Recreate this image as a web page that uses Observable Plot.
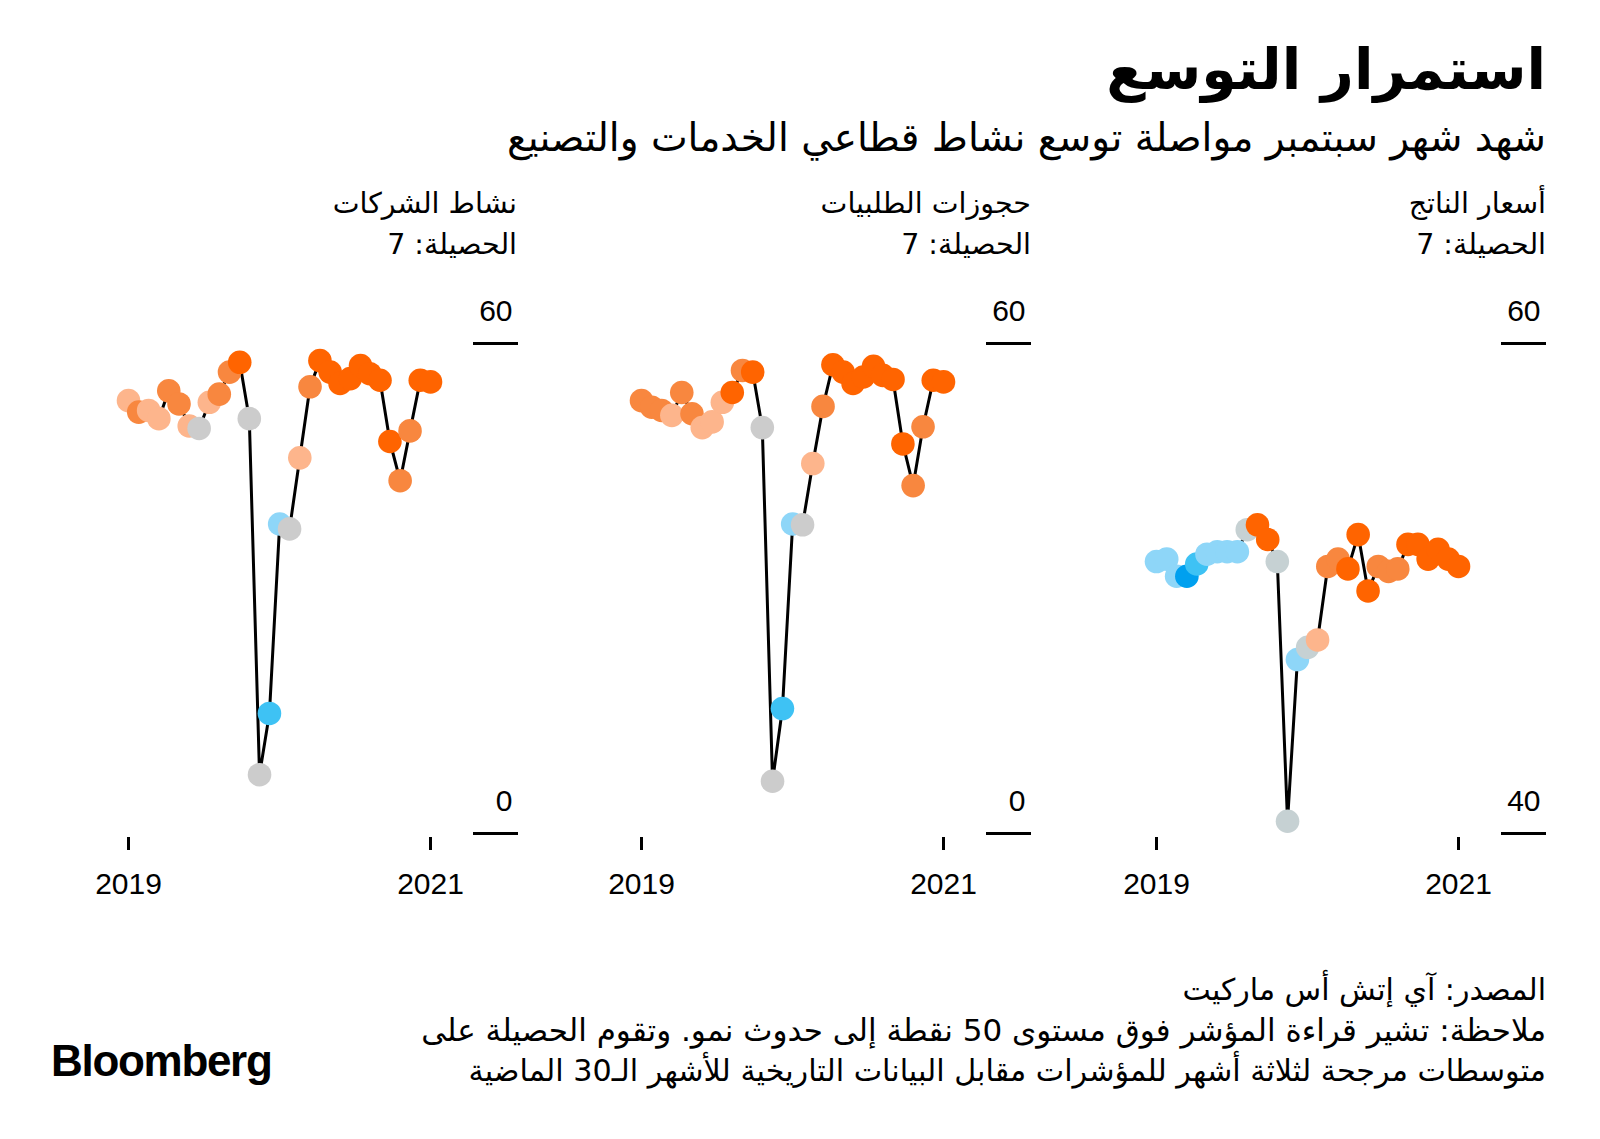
<!DOCTYPE html>
<html><head><meta charset="utf-8">
<script src="https://cdn.jsdelivr.net/npm/d3@7"></script>
<script src="https://cdn.jsdelivr.net/npm/@observablehq/plot@0.6"></script>
<style>
body{margin:0;background:#fff;}
#root{position:relative;width:1600px;height:1139px;overflow:hidden;font-family:"DejaVu Sans","Noto Sans",sans-serif;color:#000;background:#fff;}
.ar{position:absolute;direction:rtl;text-align:right;white-space:nowrap;line-height:1;}
.panel{position:absolute;top:290px;}
#logo{position:absolute;left:51px;top:1039px;font-family:"Liberation Sans",Arial,sans-serif;font-weight:bold;font-size:44px;letter-spacing:-1.3px;line-height:1;}
</style></head>
<body><div id="root">
<div class="ar" style="right:54px;top:41px;font-size:57px;font-weight:bold;">استمرار التوسع</div>
<div class="ar" style="right:54px;top:118px;font-size:39px;">شهد شهر سبتمبر مواصلة توسع نشاط قطاعي الخدمات والتصنيع</div>

<div class="ar" style="right:1083px;top:190px;font-size:28.5px;">نشاط الشركات</div>
<div class="ar" style="right:1083px;top:231px;font-size:28.5px;">الحصيلة: 7</div>
<div class="ar" style="right:569px;top:190px;font-size:28.5px;">حجوزات الطلبيات</div>
<div class="ar" style="right:569px;top:231px;font-size:28.5px;">الحصيلة: 7</div>
<div class="ar" style="right:54px;top:190px;font-size:28.5px;">أسعار الناتج</div>
<div class="ar" style="right:54px;top:231px;font-size:28.5px;">الحصيلة: 7</div>

<div class="panel" id="p1" style="left:68px"></div>
<div class="panel" id="p2" style="left:581px"></div>
<div class="panel" id="p3" style="left:1096px"></div>

<div class="ar" style="right:54px;top:975px;font-size:30px;">المصدر: آي إتش أس ماركيت</div>
<div class="ar" style="right:54px;top:1015px;font-size:31px;">ملاحظة: تشير قراءة المؤشر فوق مستوى 50 نقطة إلى حدوث نمو. وتقوم الحصيلة على</div>
<div class="ar" style="right:54px;top:1056px;font-size:30.2px;">متوسطات مرجحة لثلاثة أشهر للمؤشرات مقابل البيانات التاريخية للأشهر الـ30 الماضية</div>
<div id="logo">Bloomberg</div>
</div>
<script>
// Months: March 2019 .. September 2021 (31 monthly readings)
const firstMonth = new Date(Date.UTC(2019, 2, 1));
const lastMonth = new Date(Date.UTC(2021, 8, 1));
const dates = d3.utcMonth.range(firstMonth, d3.utcMonth.offset(lastMonth, 1));

// Business activity (نشاط الشركات)
const activityValues = [53.0,51.6,51.8,50.8,54.2,52.6,49.9,49.6,52.8,53.8,56.5,57.7,50.8,7.2,14.7,37.9,37.3,46.0,54.7,57.9,56.5,55.1,55.7,57.3,56.3,55.5,48.0,43.2,49.3,55.5,55.3];
const activityCodes = ["o1","o2","o1","o1","o2","o2","o1","n","o1","o2","o2","o3","n","n","b2","b1","n","o1","o2","o3","o3","o3","o3","o3","o3","o3","o3","o2","o2","o3","o3"];

// New orders (حجوزات الطلبيات)
const ordersValues = [53.0,52.2,51.8,51.2,54.0,51.4,49.7,50.4,52.8,54.0,56.7,56.5,49.7,6.4,15.3,37.9,37.8,45.3,52.3,57.4,56.5,55.1,55.9,57.2,56.1,55.6,47.7,42.6,49.8,55.5,55.3];
const ordersCodes = ["o2","o2","o2","o1","o2","o2","o1","o1","o1","o3","o2","o3","n","n","b2","b1","n","o1","o2","o3","o3","o3","o3","o3","o3","o3","o3","o2","o2","o3","o3"];

// Output prices (أسعار الناتج)
const pricesValues = [51.1,51.2,50.5,50.5,51.0,51.4,51.5,51.5,51.5,52.4,52.6,52.0,51.1,40.5,47.1,47.6,47.9,50.9,51.2,50.8,52.2,49.9,50.9,50.7,50.8,51.8,51.8,51.2,51.6,51.2,50.9];
const pricesCodes = ["b1","b1","b1","b3","b2","b1","b1","b1","b1","nb","o3","o3","nb","nb","b1","nb","o1","o2","o2","o3","o3","o3","o2","o2","o2","o3","o3","o3","o3","o3","o3"];

const codeNames = ["o3","o2","o1","n","nb","b1","b2","b3"];
const codeColors = ["#ff6400","#f8873f","#fdb58c","#cccccc","#c6d1d3","#8ed6f8","#3ec2f4","#00a0ef"];

function panel(values, codes, yDomain, yTicks) {
  const data = dates.map((date, i) => ({date, value: values[i], code: codes[i]}));
  return Plot.plot({
    width: 450, height: 623,
    marginLeft: 60, marginRight: 46, marginTop: 53, marginBottom: 80,
    style: {fontFamily: "'Liberation Sans', Arial, sans-serif", fontSize: "30px", color: "#000", background: "transparent", overflow: "visible"},
    x: {type: "utc", domain: [dates[0], dates[dates.length - 1]], insetRight: 42, axis: null, label: null},
    y: {domain: yDomain, axis: null, label: null},
    color: {type: "ordinal", domain: codeNames, range: codeColors},
    marks: [
      Plot.axisX({ticks: [dates[0], dates[dates.length - 1]], tickFormat: d3.utcFormat("%Y"), tickSize: 13, strokeWidth: 3, dy: 4, tickPadding: 22, label: null}),
      Plot.axisY({anchor: "right", ticks: yTicks, tickSize: 45, strokeWidth: 3, tickFormat: () => "", label: null}),
      Plot.axisY({anchor: "right", ticks: yTicks, tickSize: 0, tickPadding: 40, textAnchor: "end", dy: -32, label: null}),
      Plot.line(data, {x: "date", y: "value", stroke: "#000", strokeWidth: 3}),
      Plot.dot(data, {x: "date", y: "value", r: 11.8, fill: "code"})
    ]
  });
}

document.getElementById("p1").append(panel(activityValues, activityCodes, [0, 60], [0, 60]));
document.getElementById("p2").append(panel(ordersValues, ordersCodes, [0, 60], [0, 60]));
document.getElementById("p3").append(panel(pricesValues, pricesCodes, [40, 60], [40, 60]));
</script>
</body></html>
